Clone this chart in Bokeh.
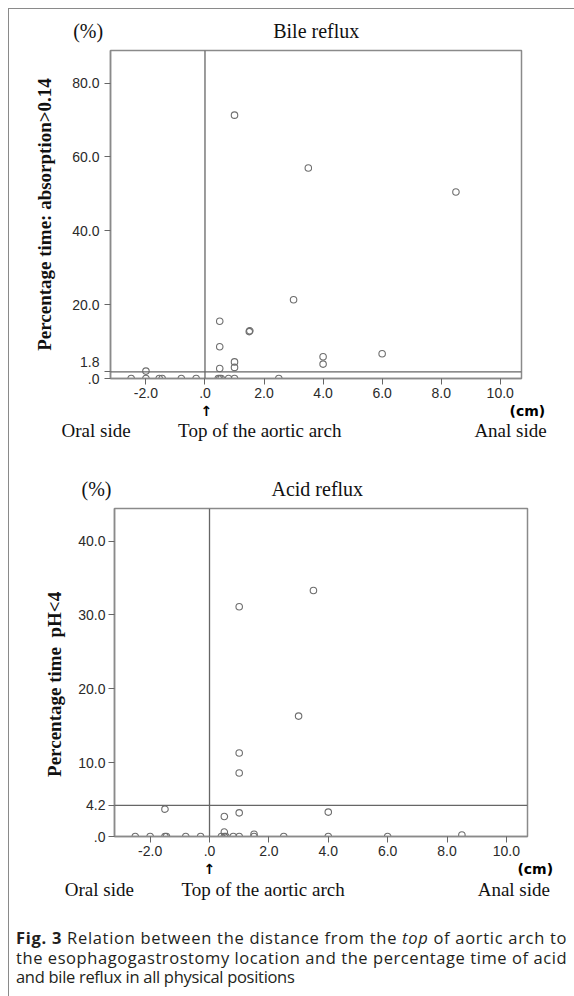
import math
from bokeh.plotting import figure
from bokeh.models import Title, Span, FixedTicker, Div, ColumnDataSource
from bokeh.layouts import column
from bokeh.embed import file_html
from bokeh.resources import INLINE

# ---------------- data ----------------
# Bile reflux: distance (cm) vs percentage time absorption > 0.14
bile_x = [-2.5, -2.0, -2.0, -1.55, -1.45, -0.8, -0.3, 0.45, 0.5, 0.55, 0.8, 1.0, 2.5,
          0.5, 0.5, 0.5, 1.0, 1.0, 1.5, 1.52, 3.0, 4.0, 4.0, 6.0, 1.0, 3.5, 8.5]
bile_y = [0.0, 0.0, 2.0, 0.0, 0.0, 0.0, 0.0, 0.0, 0.0, 0.0, 0.0, 0.0, 0.0,
          2.7, 8.6, 15.5, 3.0, 4.5, 12.7, 12.9, 21.3, 3.9, 5.9, 6.7, 71.3, 57.0, 50.5]
bile_threshold = 1.8
bile_yticks = [0, 1.8, 20, 40, 60, 80]
bile_ytick_labels = [".0", "1.8", "20.0", "40.0", "60.0", "80.0"]

# Acid reflux: distance (cm) vs percentage time pH < 4
acid_x = [-2.5, -2.0, -1.5, -1.45, -1.5, -0.8, -0.3, 0.4, 0.5, 0.55, 0.5, 0.5, 0.8, 1.0,
          1.0, 1.0, 1.0, 1.0, 1.5, 1.5, 2.5, 3.0, 3.5, 4.0, 4.0, 6.0, 8.5]
acid_y = [0.0, 0.0, 0.0, 0.0, 3.7, 0.0, 0.0, 0.0, 0.0, 0.0, 0.6, 2.7, 0.0, 0.0,
          3.2, 8.6, 11.3, 31.1, 0.3, 0.0, 0.0, 16.3, 33.3, 0.0, 3.3, 0.0, 0.2]
acid_threshold = 4.2
acid_yticks = [0, 4.2, 10, 20, 30, 40]
acid_ytick_labels = [".0", "4.2", "10.0", "20.0", "30.0", "40.0"]

x_ticks = [-2, 0, 2, 4, 6, 8, 10]
x_tick_labels = ["-2.0", ".0", "2.0", "4.0", "6.0", "8.0", "10.0"]

side_labels = ["Oral side", "Top of the aortic arch", "Anal side"]

SERIF = "Liberation Serif"
SANS = "Liberation Sans"
INK = "#111111"
NB = "\u00a0"


def make_panel(xs, ys, thr, yticks, ylabels, title, ylabel, g):
    """g: page-pixel geometry of the panel (figure box, frame box) and text spacing."""
    fl, fr, ft, fb = g["frame"]
    x0, x1 = g["xr"]
    y0, y1 = g["yr"]
    top, left, width, height = g["top"], g["left"], g["width"], g["height"]
    p = figure(width=width, height=height, x_range=(x0, x1), y_range=(y0, y1),
               output_backend="svg", toolbar_location=None,
               min_border_left=fl - left, min_border_right=left + width - fr,
               min_border_top=ft - top, min_border_bottom=top + height - fb,
               margin=(0, 0, 0, g["shift"]))
    p.grid.visible = False
    p.background_fill_color = "white"
    p.border_fill_color = "white"
    p.outline_line_color = "#8a8a8a"
    p.outline_line_width = 1.5

    # "(%)" unit and panel title on one row above the frame
    p.title.text = "(%)" + NB * g["title_gap"] + title
    p.title.align = "left"
    p.title.offset = g["title_left"] - fl
    p.title.text_font = SERIF
    p.title.text_font_style = "normal"
    p.title.text_font_size = "20px"
    p.title.text_color = INK
    p.title.standoff = g["title_standoff"]

    for ax in (p.xaxis[0], p.yaxis[0]):
        ax.axis_line_color = "#8a8a8a"
        ax.axis_line_width = 1.5
        ax.major_tick_line_color = "#666666"
        ax.major_tick_out = 6
        ax.major_tick_in = 0
        ax.minor_tick_out = 0
        ax.minor_tick_in = 0
        ax.major_label_text_font = SANS
        ax.major_label_text_font_size = "14px"
        ax.major_label_text_color = "#2a2a2a"
        ax.major_label_standoff = 3
    p.yaxis.major_label_standoff = g["ytick_standoff"]

    p.xaxis.ticker = FixedTicker(ticks=x_ticks)
    p.xaxis.major_label_overrides = {t: s for t, s in zip(x_ticks, x_tick_labels)}
    p.yaxis.ticker = FixedTicker(ticks=yticks)
    overrides = {t: s for t, s in zip(yticks, ylabels)}
    if g.get("lift_thr"):
        overrides[thr] = ylabels[yticks.index(thr)] + "\n" + NB   # lifted above its tick
    p.yaxis.major_label_overrides = overrides

    p.yaxis.axis_label = ylabel + NB * g["ylab_pad"]
    p.yaxis.axis_label_text_font = SERIF
    p.yaxis.axis_label_text_font_style = "bold"
    p.yaxis.axis_label_text_font_size = "19px"
    p.yaxis.axis_label_text_color = INK
    p.yaxis.axis_label_standoff = g["ylab_standoff"]

    p.add_layout(Span(location=0, dimension="height", line_color="#666666", line_width=1.3))
    p.add_layout(Span(location=thr, dimension="width", line_color="#666666", line_width=1.3))

    src = ColumnDataSource(data=dict(x=xs, y=ys))
    p.scatter(x="x", y="y", source=src, marker="circle", size=6.5, fill_color=None,
              line_color="#6e6e6e", line_width=1.1)

    # arrow under ".0" and the (cm) unit, one row below the x axis
    unit_row = Title(text="\u2191" + NB * g["cm_gap"] + "(cm)", align="left",
                     offset=g["arrow_left"] - fl, standoff=g["cm_standoff"],
                     text_font="DejaVu Sans", text_font_style="bold", text_font_size="14px",
                     text_color="#000000")
    p.add_layout(unit_row, "below")
    # oral side / top of the aortic arch / anal side
    gaps = g["side_gaps"]
    side_text = side_labels[0] + NB * gaps[0] + side_labels[1] + NB * gaps[1] + side_labels[2]
    side_row = Title(text=side_text, align="left", offset=g["side_left"] - fl,
                     standoff=g["side_standoff"], text_font=SERIF, text_font_style="normal",
                     text_font_size="19px", text_color=INK)
    p.add_layout(side_row, "below")
    return p


top_geom = dict(top=9, left=9, shift=0, width=559, height=450,
                frame=(110, 521, 49, 378), xr=(-3.2, 10.72), yr=(0, 88.8),
                title_left=72.7, title_gap=34, title_standoff=17,
                ytick_standoff=5, ylab_standoff=14, ylab_pad=0,
                arrow_left=200, cm_gap=61, cm_standoff=0,
                side_left=61, side_gaps=(10, 28), side_standoff=-2, lift_thr=True)
bot_geom = dict(top=459, left=13, shift=4, width=561, height=460,
                frame=(114, 527, 508, 836), xr=(-3.2, 10.71), yr=(0, 44.4),
                title_left=81, title_gap=32, title_standoff=17,
                ytick_standoff=3, ylab_standoff=10, ylab_pad=5,
                arrow_left=203, cm_gap=62, cm_standoff=0,
                side_left=64.3, side_gaps=(10, 28), side_standoff=1, lift_thr=False)

p1 = make_panel(bile_x, bile_y, bile_threshold, bile_yticks, bile_ytick_labels,
                "Bile reflux", "Percentage time: absorption>0.14", top_geom)
p2 = make_panel(acid_x, acid_y, acid_threshold, acid_yticks, acid_ytick_labels,
                "Acid reflux", "Percentage time" + NB + " pH<4", bot_geom)

caption = Div(
    text=('<div style="margin:0;padding:4px 0 0 2px;font-family:\'Open Sans\';font-size:16.5px;'
          'line-height:19.5px;color:#231f20;white-space:nowrap">'
          '<span style="letter-spacing:0.7px"><b>Fig. 3</b> Relation between the distance from the '
          '<i>top</i> of aortic arch to</span><br>'
          '<span style="letter-spacing:0.57px">the esophagogastrostomy location and the percentage '
          'time of acid</span><br>'
          '<span style="letter-spacing:-0.3px">and bile reflux in all physical positions</span></div>'),
    width=565, height=70)

layout = column(p1, p2, caption, spacing=0,
                styles={"margin": "8px 0 0 8px",
                        "border-left": "1px solid #8a8a8a", "border-top": "1px solid #8a8a8a"})

open("out.html", "w").write(file_html(layout, INLINE))
